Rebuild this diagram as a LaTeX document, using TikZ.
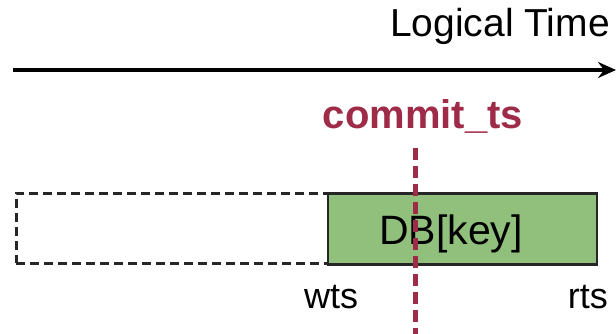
\documentclass[tikz,border=0pt]{standalone}
\usepackage{fontspec}
\setmainfont{Liberation Sans}
\usetikzlibrary{arrows.meta}
\definecolor{commitred}{RGB}{158,43,72}
\definecolor{dbgreen}{RGB}{145,192,125}
\tikzset{
  lbl/.style={inner sep=0pt, font=\fontsize{36}{40}\selectfont},
  ghostbox/.style={draw=black!85, line width=3pt, dash pattern=on 9pt off 5pt, minimum width=312pt, minimum height=70pt, inner sep=0pt},
  valbox/.style={draw=black!85, fill=dbgreen, line width=2.2pt, minimum width=269pt, minimum height=71pt, inner sep=0pt},
  timeline/.style={line width=4pt, -{Stealth[length=18pt,width=16pt,inset=6pt]}},
  commitline/.style={draw=commitred, line width=5pt, dash pattern=on 12pt off 6pt},
}
\begin{document}
\begin{tikzpicture}[x=1pt,y=-1pt]
\useasboundingbox (0,0) rectangle (616,334);
% time axis
\coordinate (tstart) at (13,70);
\coordinate (tend) at (616,70);
\draw[timeline] (tstart) -- (tend);
\node[lbl, font=\fontsize{39}{43}\selectfont, anchor=base] (ltime) at (500,37) {Logical Time};
% boxes
\node[ghostbox] (ghost) at (172,228) {};
\node[valbox] (db) at (462.5,229) {};
\node[lbl, font=\fontsize{41}{45}\selectfont, anchor=base] (dbtxt) at (451,244) {DB[key]};
% labels
\node[lbl, anchor=base west] (wts) at (304,308) {wts};
\node[lbl, anchor=base east] (rts) at (608,308) {rts};
% commit
\node[lbl, font=\fontsize{40}{44}\selectfont\bfseries, text=commitred, anchor=base] (commit) at (423,129) {commit\_ts};
\coordinate (ctop) at (415,148);
\coordinate (cbot) at (415,334);
\draw[commitline] (ctop) -- (cbot);
\end{tikzpicture}
\end{document}
